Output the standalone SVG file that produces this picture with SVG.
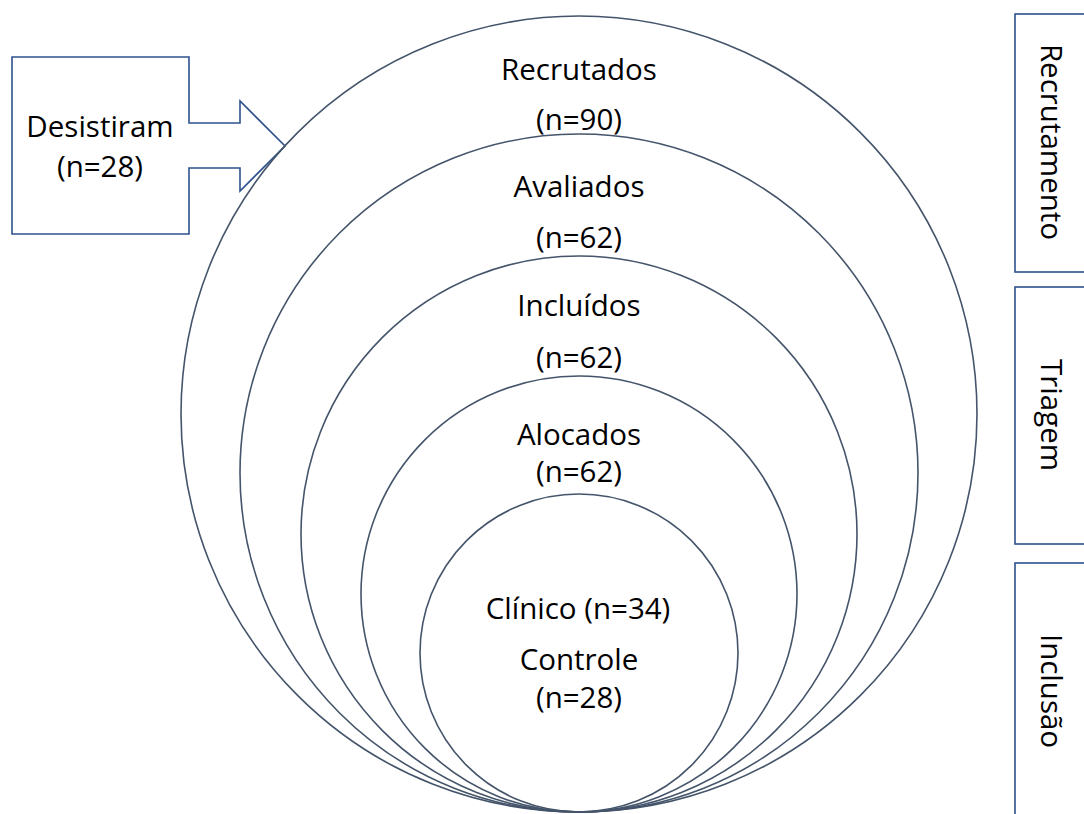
<svg xmlns="http://www.w3.org/2000/svg" width="1084" height="814" viewBox="0 0 1084 814">
<style>
.circ{fill:none;stroke:#44546A;stroke-width:1.6}
.box{fill:#FFFFFF;stroke:#2F528F;stroke-width:1.6}
.t{font-family:"Open Sans","Liberation Sans",sans-serif;font-size:29.5px;fill:#000000;text-anchor:middle}
</style>
<rect x="0" y="0" width="1084" height="814" fill="#FFFFFF"/>
<g id="desistiram">
<path class="box" d="M12,57 H189 V123 H240 V101 L285,146 L240,191 V168 H189 V234 H12 Z"/>
<text class="t" x="100" y="137">Desistiram</text>
<text class="t" x="100" y="177">(n=28)</text>
</g>
<g id="recrutados">
<circle class="circ" cx="579" cy="414" r="398"/>
<text class="t" x="579" y="80">Recrutados</text>
<text class="t" x="579" y="130">(n=90)</text>
</g>
<g id="avaliados">
<circle class="circ" cx="579" cy="473" r="339"/>
<text class="t" x="579" y="197">Avaliados</text>
<text class="t" x="579" y="248">(n=62)</text>
</g>
<g id="incluidos">
<circle class="circ" cx="579" cy="534" r="278"/>
<text class="t" x="579" y="316">Incluídos</text>
<text class="t" x="579" y="368">(n=62)</text>
</g>
<g id="alocados">
<circle class="circ" cx="579" cy="594" r="218"/>
<text class="t" x="579" y="445">Alocados</text>
<text class="t" x="579" y="482">(n=62)</text>
</g>
<g id="grupos">
<circle class="circ" cx="579" cy="653" r="159"/>
<text class="t" x="578" y="619">Clínico (n=34)</text>
<text class="t" x="579" y="670">Controle</text>
<text class="t" x="579" y="708">(n=28)</text>
</g>
<g id="recrutamento">
<rect class="box" x="1015" y="14" width="80" height="258"/>
<text class="t" transform="translate(1041,142) rotate(90)">Recrutamento</text>
</g>
<g id="triagem">
<rect class="box" x="1015" y="287" width="80" height="257"/>
<text class="t" transform="translate(1041,415) rotate(90)">Triagem</text>
</g>
<g id="inclusao">
<rect class="box" x="1015" y="563" width="80" height="270"/>
<text class="t" transform="translate(1041,691) rotate(90)">Inclusão</text>
</g>
<g id="connectors"></g>
</svg>
